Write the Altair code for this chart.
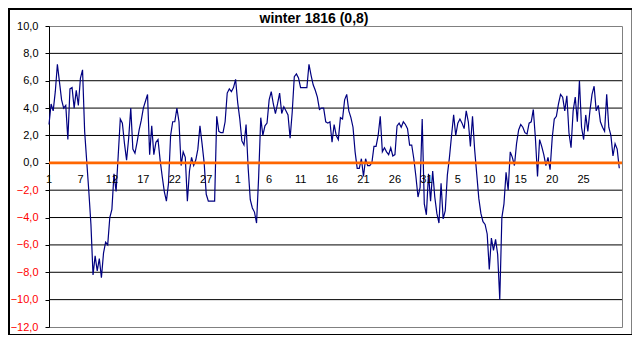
import altair as alt
import pandas as pd

# temperatures, three readings per day
temps = [
    2.8, 4.3, 3.8, 5.2, 7.2, 5.9, 4.6, 4.0, 4.2, 1.7,
    5.4, 5.5, 4.0, 5.3, 4.2, 6.2, 6.8, 2.3, 0.1, -2.1,
    -4.5, -8.2, -6.8, -7.9, -7.0, -8.4, -6.6, -5.8, -6.0, -4.0,
    -3.4, -0.8, -2.1, 0.5, 3.2, 2.9, 1.4, 0.2, 1.8, 4.0,
    1.0, 0.7, 1.5, 2.4, 3.1, 4.0, 4.5, 5.0, 0.6, 2.7,
    0.6, 1.5, 1.7, 0.2, -1.0, -2.1, -2.8, -1.5, 2.0, 3.0,
    3.0, 4.0, 3.0, -0.2, 0.8, 0.4, -2.8, -0.6, 0.4, -0.2,
    0.2, 1.0, 2.7, 1.4, 0.0, -2.3, -2.8, -2.8, -2.8, -2.8,
    3.4, 2.3, 2.2, 2.2, 3.0, 5.1, 5.4, 5.2, 5.5, 6.1,
    4.4, 3.2, 1.6, 1.3, 2.8, -0.4, -2.7, -3.3, -3.6, -4.4,
    -1.0, 3.3, 2.0, 2.7, 2.9, 4.6, 5.2, 4.3, 3.6, 4.3,
    5.1, 3.6, 4.1, 3.8, 3.5, 1.8, 3.7, 6.3, 6.5, 6.2,
    5.5, 5.5, 5.5, 5.5, 7.2, 6.4, 5.7, 5.3, 4.8, 3.9,
    4.0, 4.0, 3.0, 2.9, 3.0, 1.5, 2.8, 2.0, 1.7, 3.3,
    3.2, 4.6, 5.0, 3.8, 3.3, 2.6, 0.8, -0.4, -0.4, 0.3,
    -1.0, 0.3, -0.2, -0.2, 0.0, 1.2, 1.2, 2.0, 3.4, 0.8,
    1.1, 0.8, 0.6, 1.1, 0.5, 0.6, 2.7, 2.9, 2.6, 3.0,
    2.8, 2.5, 1.3, 1.3, 0.3, -1.0, -2.5, -1.8, 3.2, -3.0,
    -3.8, -0.8, -2.8, -0.6, -2.5, -3.7, -4.4, -1.5, -4.1, -3.5,
    -0.9, 0.4, 2.0, 3.5, 2.0, 2.9, 3.2, 2.9, 2.5, 3.8,
    3.0, 1.2, 3.4, 1.0, -0.8, -2.6, -3.7, -4.3, -4.5, -5.2,
    -7.8, -5.5, -6.4, -5.6, -6.7, -10.0, -4.0, -3.0, -0.7, -2.0,
    0.8, 0.4, -0.2, 1.4, 2.4, 2.8, 2.6, 2.2, 2.1, 2.9,
    3.0, 3.9, 1.8, -1.0, 1.7, 1.2, 0.6, -0.2, 0.4, -0.5,
    1.8, 3.2, 3.4, 4.3, 5.0, 4.8, 3.8, 4.9, 2.2, 1.1,
    3.8, 4.8, 3.0, 6.0, 2.6, 1.7, 3.5, 2.3, 3.8, 5.0,
    5.6, 3.8, 4.2, 3.0, 2.6, 2.3, 5.0, 2.6, 2.0, 0.5,
    1.4, 1.0, -0.4,
]

label_days = [0, 5, 10, 15, 20, 25, 30, 35, 40, 45, 50, 55, 60, 65, 70, 75, 80, 85]
label_texts = ["1", "7", "12", "17", "22", "27", "1", "6", "11", "16", "21", "26",
               "31", "5", "10", "15", "20", "25"]
grid_values = [-10, -8, -6, -4, -2, 0, 2, 4, 6, 8]
y_ticks = [-12, -10, -8, -6, -4, -2, 0, 2, 4, 6, 8, 10]
title_text = "winter 1816 (0,8)"

df = pd.DataFrame({"t": [i / 3 for i in range(len(temps))], "temp": temps})
labels_df = pd.DataFrame({"t": label_days, "lab": label_texts, "y0": [0] * len(label_days)})
grid_df = pd.DataFrame({"g": grid_values})
one_df = pd.DataFrame({"z": [0]})

FONT = "Liberation Sans"
x_scale = alt.Scale(domain=[0, 91.1], nice=False, zero=False)
y_scale = alt.Scale(domain=[-12, 10], nice=False, zero=False)

y_axis = alt.Axis(
    values=y_ticks,
    labelExpr="replace(format(datum.value, '.1f'), '.', ',')",
    labelColor={"condition": {"test": "datum.value < 0", "value": "#ff0000"}, "value": "#000000"},
    labelFont=FONT,
    labelFontSize=11,
    labelPadding=7,
    labelOverlap=False,
    labelFlush=False,
    labelBound=False,
    tickSize=4,
    tickColor="#000000",
    domainColor="#000000",
    domainWidth=1,
    grid=False,
    title=None,
)

grid = alt.Chart(grid_df).mark_rule(color="#000000", strokeWidth=1).encode(
    y=alt.Y("g:Q", scale=y_scale, axis=y_axis)
)

line = alt.Chart(df).mark_line(color="#000080", strokeWidth=1.2).encode(
    x=alt.X("t:Q", scale=x_scale, axis=None),
    y=alt.Y("temp:Q", scale=y_scale, axis=y_axis),
)

zero = alt.Chart(one_df).mark_rule(color="#ff6600", strokeWidth=2.7).encode(
    y=alt.Y("z:Q", scale=y_scale, axis=y_axis)
)

labels = alt.Chart(labels_df).mark_text(
    font=FONT, fontSize=11, color="#000000", dy=17, baseline="middle", align="center"
).encode(
    x=alt.X("t:Q", scale=x_scale, axis=None),
    y=alt.Y("y0:Q", scale=y_scale, axis=y_axis),
    text="lab:N",
)

title = alt.Chart(one_df).mark_text(
    font=FONT, fontSize=14, fontWeight="bold", color="#000000", baseline="alphabetic", align="center"
).encode(
    x=alt.value(265), y=alt.value(-3.5), text=alt.value(title_text)
)

frame = alt.Chart(one_df).mark_rect(
    fillOpacity=0, stroke="#000000", strokeWidth=2
).encode(
    x=alt.value(-40), x2=alt.value(583.5), y=alt.value(-17), y2=alt.value(309)
)

chart = alt.layer(grid, line, zero, labels, title, frame).properties(
    width=573,
    height=301,
    background="#ffffff",
    padding={"left": 41, "top": 18, "right": 10, "bottom": 8},
    autosize=alt.AutoSizeParams(type="none"),
).configure_view(stroke="#808080", strokeWidth=1)

chart.save("out.html", embed_options={"renderer": "svg", "actions": False})
